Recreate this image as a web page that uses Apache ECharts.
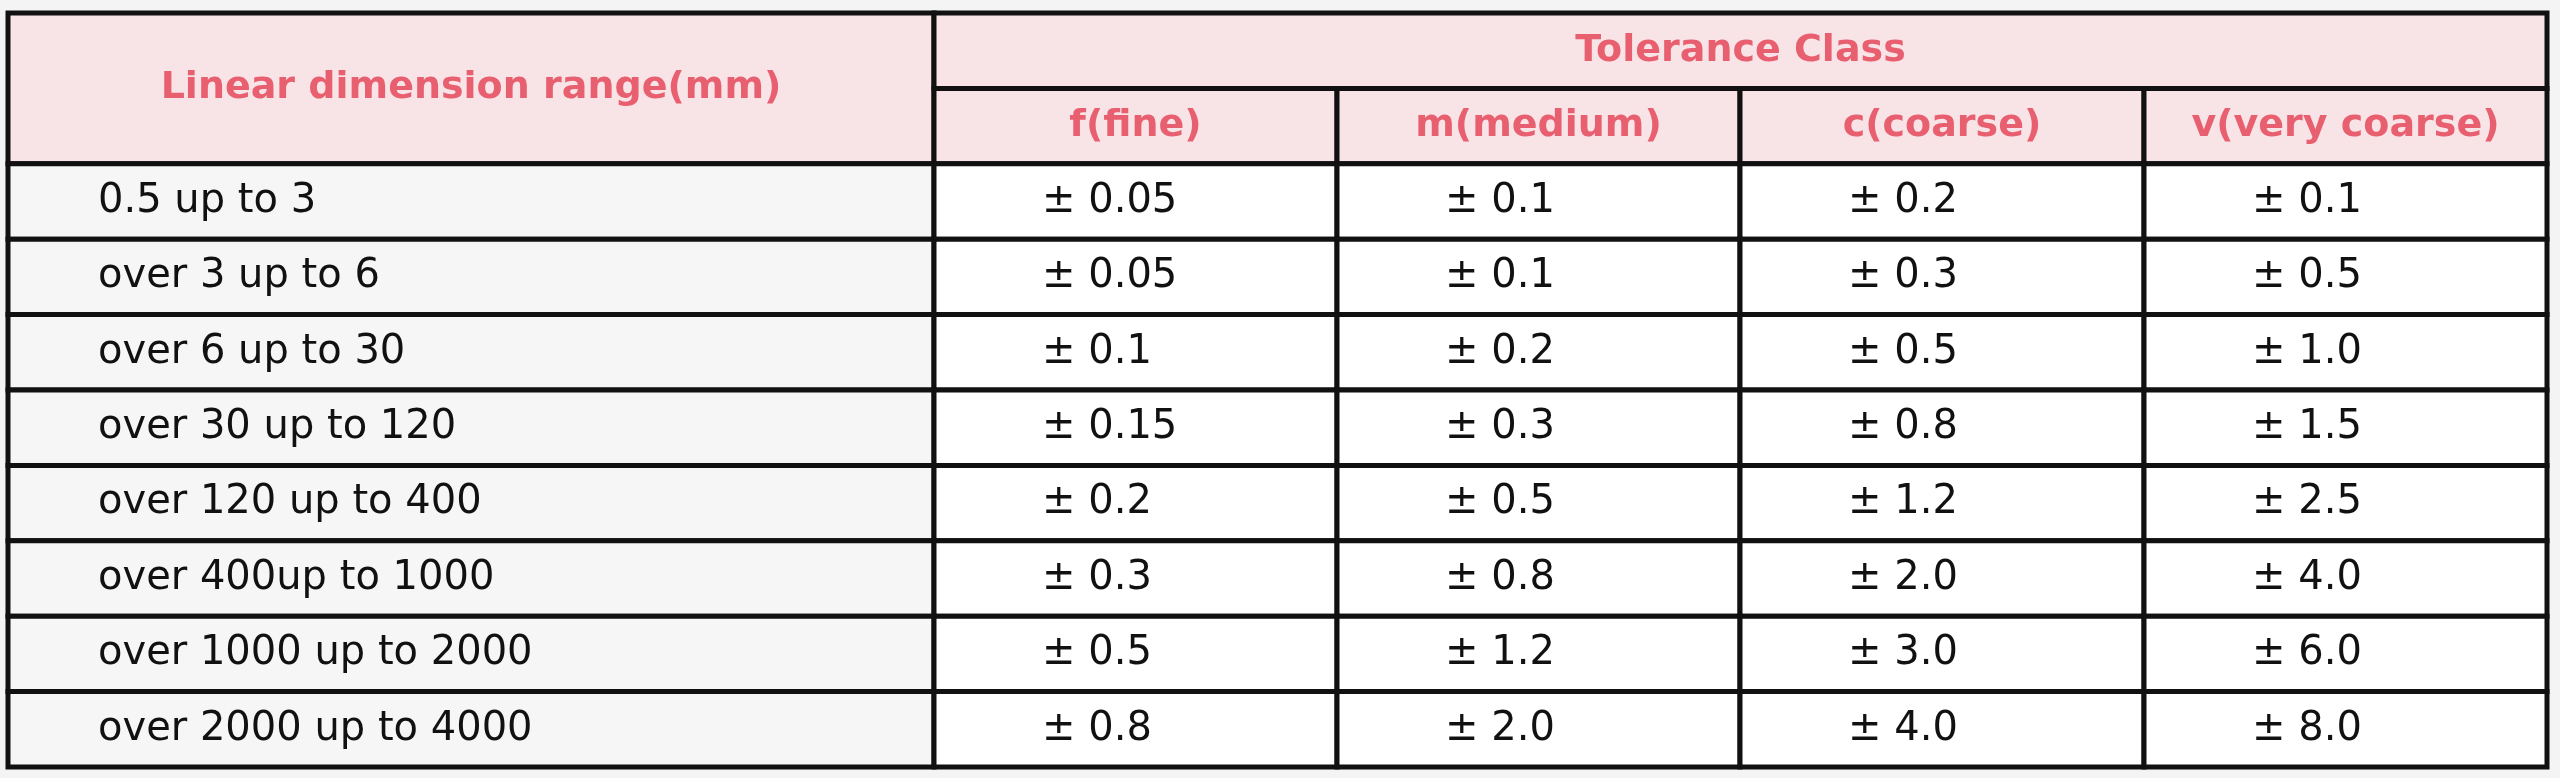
<!DOCTYPE html>
<html><head><meta charset="utf-8">
<script src="https://cdn.jsdelivr.net/npm/echarts@6/dist/echarts.min.js"></script>
<style>html,body{margin:0;padding:0;background:#f4f4f4}#c{width:2560px;height:778px}</style>
</head><body><div id="c"></div>
<script>
const groupTitle = 'Tolerance Class';
const rangeHeader = 'Linear dimension range(mm)';
const classes = ['f(fine)', 'm(medium)', 'c(coarse)', 'v(very coarse)'];
const ranges = ['0.5 up to 3','over 3 up to 6','over 6 up to 30','over 30 up to 120','over 120 up to 400','over 400up to 1000','over 1000 up to 2000','over 2000 up to 4000'];
const fine = ['0.05','0.05','0.1','0.15','0.2','0.3','0.5','0.8'];
const medium = ['0.1','0.1','0.2','0.3','0.5','0.8','1.2','2.0'];
const coarse = ['0.2','0.3','0.5','0.8','1.2','2.0','3.0','4.0'];
const veryCoarse = ['0.1','0.5','1.0','1.5','2.5','4.0','6.0','8.0'];

const colEdges = [0, 926, 1329, 1732, 2136, 2539];
const cols = [fine, medium, coarse, veryCoarse];
const PINK = '#e8606f', HBG = '#f8e3e7';
const cells = [];
cells.push({x0:0,x1:1,y0:0,y1:2,text:rangeHeader,bg:HBG,head:true,align:'center'});
cells.push({x0:1,x1:5,y0:0,y1:1,text:groupTitle,bg:HBG,head:true,align:'center'});
classes.forEach((c,i)=>cells.push({x0:i+1,x1:i+2,y0:1,y1:2,text:c,bg:HBG,head:true,align:'center'}));
ranges.forEach((r,j)=>{
  cells.push({x0:0,x1:1,y0:j+2,y1:j+3,text:r,bg:'#f6f6f6',head:false,align:'left',pad:90});
  cols.forEach((arr,i)=>cells.push({x0:i+1,x1:i+2,y0:j+2,y1:j+3,text:'± '+arr[j],bg:'#ffffff',head:false,align:'left',pad:108}));
});
const data = cells.map(c=>[colEdges[c.x0],colEdges[c.x1],c.y0,c.y1]);

const chart = echarts.init(document.getElementById('c'));
chart.setOption({
  backgroundColor:'#f4f4f4',
  grid:{left:8,right:13,top:13,bottom:11},
  xAxis:{type:'value',min:0,max:2539,show:false},
  yAxis:{type:'value',min:0,max:10,inverse:true,show:false},
  series:[{
    type:'custom',
    data:data,
    renderItem:function(params,api){
      const c = cells[params.dataIndex];
      const p0 = api.coord([api.value(0),api.value(2)]);
      const p1 = api.coord([api.value(1),api.value(3)]);
      const w = p1[0]-p0[0], h = p1[1]-p0[1];
      const tx = c.align==='center' ? p0[0]+w/2 : p0[0]+c.pad;
      return {type:'group',children:[
        {type:'rect',shape:{x:p0[0],y:p0[1],width:w,height:h},style:{fill:c.bg,stroke:'#111',lineWidth:5}},
        {type:'text',style:{x:tx,y:p0[1]+h/2,text:c.text,fill:c.head?PINK:'#111',
          font:(c.head?'bold 38px':'40px')+' "DejaVu Sans", sans-serif',align:c.align,verticalAlign:'middle'}}
      ]};
    }
  }]
});
</script></body></html>
